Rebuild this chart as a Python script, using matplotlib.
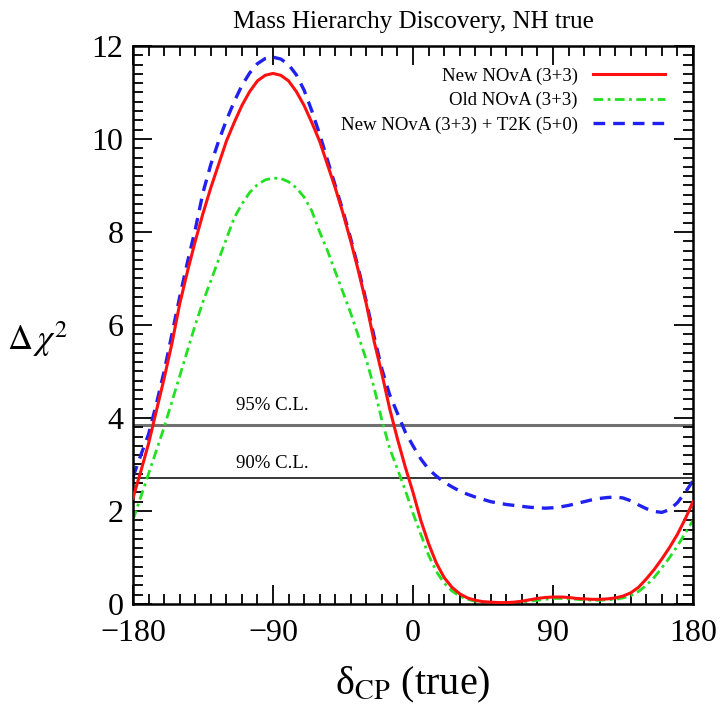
import numpy as np
import matplotlib
matplotlib.use("Agg")
import matplotlib.pyplot as plt
from matplotlib.ticker import MultipleLocator

plt.rcParams['font.family'] = ['Liberation Serif', 'DejaVu Serif']
plt.rcParams['mathtext.fontset'] = 'stix'

# delta_CP (true) grid in degrees, every 5 deg
delta_cp = list(range(-180, 181, 5))

new_nova = [2.28, 2.85, 3.45, 4.15, 4.85, 5.6, 6.45, 7.15, 7.8, 8.4,
            8.95, 9.45, 9.95, 10.35, 10.72, 11.02, 11.25, 11.37, 11.41,
            11.37, 11.25, 11.02, 10.72, 10.35, 9.95, 9.45, 8.95, 8.4,
            7.8, 7.15, 6.45, 5.65, 4.95, 4.2, 3.55, 2.95, 2.4,
            1.8, 1.3, 0.88, 0.57, 0.36, 0.22, 0.13, 0.08, 0.05,
            0.04, 0.03, 0.03, 0.04, 0.06, 0.09, 0.12, 0.14, 0.15,
            0.15, 0.14, 0.12, 0.11, 0.1, 0.1, 0.11, 0.13, 0.17,
            0.24, 0.36, 0.54, 0.74, 0.97, 1.22, 1.5, 1.83, 2.2]

old_nova = [1.81, 2.3, 2.8, 3.3, 3.8, 4.35, 4.9, 5.45, 6.0, 6.5,
            6.95, 7.4, 7.85, 8.3, 8.6, 8.85, 9.02, 9.12, 9.16,
            9.15, 9.08, 8.95, 8.75, 8.45, 8.0, 7.6, 7.15, 6.7,
            6.25, 5.75, 5.25, 4.65, 3.95, 3.35, 2.9, 2.45, 1.95,
            1.5, 1.05, 0.7, 0.45, 0.28, 0.17, 0.1, 0.06, 0.04,
            0.03, 0.02, 0.02, 0.03, 0.04, 0.06, 0.08, 0.1, 0.12,
            0.12, 0.11, 0.1, 0.09, 0.08, 0.08, 0.09, 0.1, 0.13,
            0.18, 0.27, 0.4, 0.57, 0.78, 1.0, 1.25, 1.52, 1.8]

nova_t2k = [2.73, 3.2, 3.65, 4.3, 5.0, 5.8, 6.6, 7.35, 8.05, 8.85,
            9.45, 9.95, 10.4, 10.8, 11.15, 11.42, 11.62, 11.73, 11.76,
            11.72, 11.6, 11.38, 11.05, 10.6, 10.1, 9.55, 9.0, 8.45,
            7.85, 7.2, 6.5, 5.75, 5.05, 4.5, 4.1, 3.7, 3.4,
            3.12, 2.9, 2.75, 2.62, 2.52, 2.43, 2.36, 2.3, 2.25,
            2.2, 2.17, 2.14, 2.12, 2.1, 2.08, 2.07, 2.06, 2.07,
            2.09, 2.12, 2.16, 2.2, 2.24, 2.27, 2.29, 2.3, 2.28,
            2.22, 2.13, 2.05, 1.99, 1.97, 2.03, 2.18, 2.4, 2.65]

cl_levels = [3.84, 2.71]
cl_labels = ["95% C.L.", "90% C.L."]

fig = plt.figure(figsize=(7.24, 7.12), dpi=100)
ax = fig.add_axes([0.1837, 0.1517, 0.7735, 0.7837])

ax.axhline(cl_levels[0], color='#707070', lw=2.2, zorder=1)
ax.axhline(cl_levels[1], color='black', lw=1.1, zorder=1)
ax.text(-113.5, 4.26, cl_labels[0], fontsize=13.5, va='center', ha='left')
ax.text(-113.5, 3.02, cl_labels[1], fontsize=13.5, va='center', ha='left')

ax.plot(delta_cp, new_nova, color='#ff1010', lw=2.2, label='New NOvA (3+3)', zorder=3)
ax.plot(delta_cp, old_nova, color='#22e022', lw=2.0, ls=(0, (3.5, 1.6, 1, 1.6)),
        label='Old NOvA (3+3)', zorder=2)
ax.plot(delta_cp, nova_t2k, color='#2020f0', lw=2.4, ls=(0, (3.5, 2.4)),
        label='New NOvA (3+3) + T2K (5+0)', zorder=2)

ax.set_xlim(-180, 180)
ax.set_ylim(0, 12)
ax.set_xticks([-180, -90, 0, 90, 180])
ax.set_xticklabels(['\u2212180', '\u221290', '0', '90', '180'])
ax.xaxis.set_minor_locator(MultipleLocator(10))
ax.yaxis.set_major_locator(MultipleLocator(2))
ax.yaxis.set_minor_locator(MultipleLocator(0.2))
ax.tick_params(which='both', direction='in', top=True, right=True, width=1.3)
ax.tick_params(which='major', length=14, labelsize=23)
ax.tick_params(axis='x', which='major', pad=11)
ax.tick_params(axis='y', which='major', pad=7)
ax.tick_params(which='minor', length=7)
for s in ax.spines.values():
    s.set_linewidth(1.8)

ax.text(0.5, 1.043, 'Mass Hierarchy Discovery, NH true', fontsize=18,
        ha='center', va='center', transform=ax.transAxes)
ax.set_xlabel('\u03b4$_{\\rm CP}$ (true)', fontsize=29, va='center')
ax.xaxis.set_label_coords(0.5, -0.145)
ax.set_ylabel(r'$\Delta\,\chi^2$', fontsize=25, rotation=0, ha='center', va='center')
ax.yaxis.set_label_coords(-0.171, 0.475)

leg = ax.legend(loc='upper right', bbox_to_anchor=(0.95, 0.962), fontsize=13.5,
                frameon=False, markerfirst=False, borderpad=0, borderaxespad=0,
                handlelength=3.85, handletextpad=0.8, labelspacing=0.39)

fig.savefig('out.png', dpi=100)
